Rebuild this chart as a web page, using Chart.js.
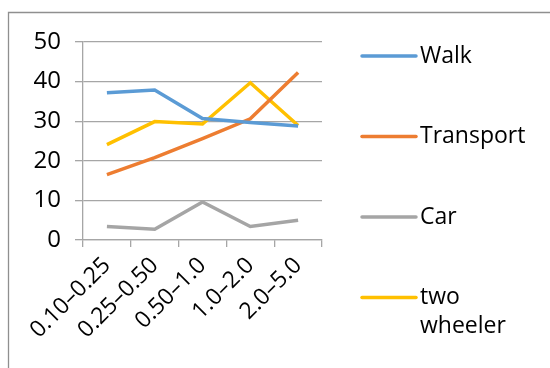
<!DOCTYPE html>
<html>
<head>
<meta charset="utf-8">
<script src="https://cdn.jsdelivr.net/npm/chart.js@4/dist/chart.umd.min.js"></script>
<style>
  html, body { margin: 0; padding: 0; background: #fff; }
  #wrap { position: relative; width: 550px; height: 368px; }
</style>
</head>
<body>
<div id="wrap"><canvas id="myChart" width="550" height="368"></canvas></div>
<script>
'use strict';
const distances = ['0.10\u20130.25', '0.25\u20130.50', '0.50\u20131.0', '1.0\u20132.0', '2.0\u20135.0'];
const walk = [37.2, 37.9, 30.7, 29.7, 28.8];
const transport = [16.5, 20.8, 25.6, 30.6, 42.3];
const car = [3.4, 2.7, 9.6, 3.4, 5.0];
const twoWheeler = [24.1, 29.9, 29.3, 39.7, 28.9];
const yTicks = [0, 10, 20, 30, 40, 50];

const FONT = '"Open Sans", "DejaVu Sans", sans-serif';
const gridColor = '#a6a6a6';

// frame around the whole chart (only left and top edges are inside the window)
const frame = {
  id: 'frame',
  beforeDraw(chart) {
    const ctx = chart.ctx;
    ctx.save();
    ctx.strokeStyle = '#8f8f8f';
    ctx.lineWidth = 1.3;
    ctx.beginPath();
    ctx.moveTo(8.5, 368);
    ctx.lineTo(8.5, 12.5);
    ctx.lineTo(550, 12.5);
    ctx.stroke();
    ctx.restore();
  },
};

// legend on the right, one item per dataset, long names wrap onto two lines
const sideLegend = {
  id: 'sideLegend',
  afterDraw(chart) {
    const ctx = chart.ctx;
    const x0 = 362;
    const x1 = 416;
    const textX = 420;
    const maxW = 112;
    ctx.save();
    ctx.font = '23px ' + FONT;
    ctx.textBaseline = 'middle';
    chart.data.datasets.forEach((ds, i) => {
      const y = 56 + i * 80.5;
      ctx.strokeStyle = ds.borderColor;
      ctx.lineWidth = 3.5;
      ctx.lineCap = 'round';
      ctx.beginPath();
      ctx.moveTo(x0, y);
      ctx.lineTo(x1, y);
      ctx.stroke();
      let lines = [];
      let cur = '';
      ds.label.split(' ').forEach((w) => {
        const test = cur ? cur + ' ' + w : w;
        if (cur && ctx.measureText(test).width > maxW) {
          lines.push(cur);
          cur = w;
        } else {
          cur = test;
        }
      });
      lines.push(cur);
      ctx.fillStyle = '#000';
      lines.forEach((t, j) => ctx.fillText(t, textX, y + j * 29));
    });
    ctx.restore();
  },
};

const lineStyle = { borderWidth: 3.5, pointRadius: 0, tension: 0, fill: false };

const ctx = document.getElementById('myChart');
const myChart = new Chart(ctx, {
  type: 'line',
  data: {
    labels: distances,
    datasets: [
      { label: 'Walk', data: walk, borderColor: '#5b9bd5', ...lineStyle },
      { label: 'Transport', data: transport, borderColor: '#ed7d31', ...lineStyle },
      { label: 'Car', data: car, borderColor: '#a5a5a5', ...lineStyle },
      { label: 'two wheeler', data: twoWheeler, borderColor: '#ffc000', ...lineStyle },
    ],
  },
  options: {
    responsive: false,
    animation: false,
    layout: {
      padding: { left: 0, top: 42, right: 228, bottom: 0 },
    },
    scales: {
      x: {
        offset: true,
        grid: {
          offset: true,
          drawOnChartArea: false,
          drawTicks: true,
          tickLength: 7,
          color: gridColor,
          lineWidth: 1.3,
        },
        border: { display: true, color: gridColor, width: 1.3 },
        ticks: {
          color: '#000',
          font: { family: FONT, size: 23 },
          minRotation: 45,
          maxRotation: 45,
          padding: 5,
        },
        afterFit(scale) {
          scale.height = 128;
        },
      },
      y: {
        min: 0,
        max: 50,
        afterBuildTicks(scale) {
          scale.ticks = yTicks.map((v) => ({ value: v }));
        },
        grid: {
          color: gridColor,
          lineWidth: 1.3,
          drawTicks: true,
          tickLength: 8,
        },
        border: { display: true, color: gridColor, width: 1.3 },
        ticks: {
          color: '#000',
          font: { family: FONT, size: 24 },
          padding: 14,
        },
        afterFit(scale) {
          scale.width = 83;
        },
      },
    },
    plugins: {
      legend: { display: false },
      tooltip: { enabled: false },
    },
  },
  plugins: [frame, sideLegend],
});
</script>
</body>
</html>
